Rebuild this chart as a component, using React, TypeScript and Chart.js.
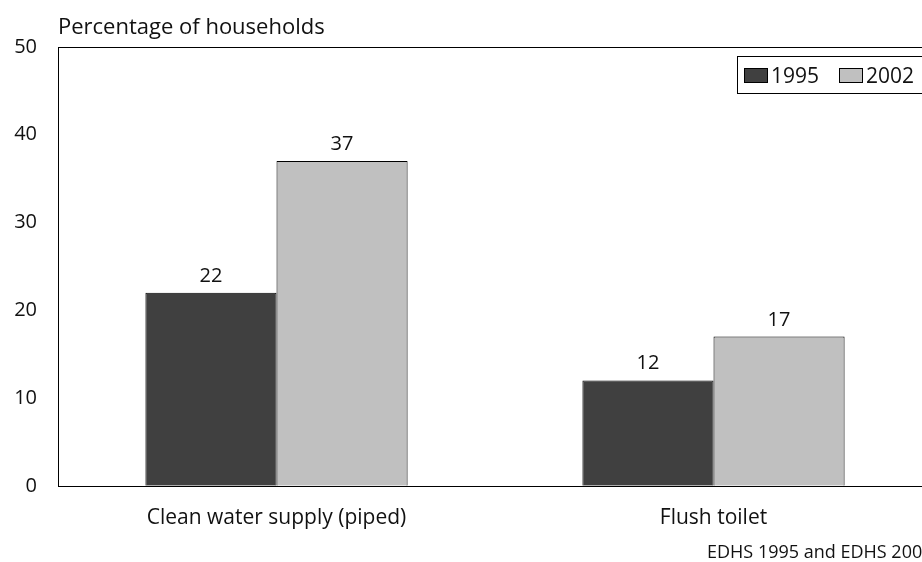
import React, { useEffect, useRef } from "react";
import { Chart, registerables } from "chart.js";

Chart.register(...registerables);

const categories = ["Clean water supply (piped)", "Flush toilet"];
const seriesLabels = ["1995", "2002"];
const values1995 = [22, 12];
const values2002 = [37, 17];
const yTicks = [0, 10, 20, 30, 40, 50];
const yTitle = "Percentage of households";
const sourceText = "EDHS 1995 and EDHS 2002";

const FONT = "'Open Sans', Lato, sans-serif";
const colors = ["#404040", "#c0c0c0"];

export default function App() {
  const ref = useRef<HTMLCanvasElement>(null);
  useEffect(() => {
    if (!ref.current) return;
    const decor = {
      id: "decor",
      afterDraw(chart: any) {
        const ctx = chart.ctx;
        const a = chart.chartArea;
        ctx.save();
        // frame
        ctx.strokeStyle = "#000";
        ctx.lineWidth = 1;
        ctx.strokeRect(Math.round(a.left) + 0.5, Math.round(a.top) + 0.5, Math.round(a.right - a.left), Math.round(a.bottom - a.top));
        // title
        ctx.fillStyle = "#111";
        ctx.font = `22px ${FONT}`;
        ctx.textAlign = "left";
        ctx.textBaseline = "alphabetic";
        ctx.fillText(yTitle, a.left, 34);
        // data labels
        ctx.font = `20px ${FONT}`;
        ctx.textAlign = "center";
        chart.data.datasets.forEach((ds: any, di: number) => {
          const meta = chart.getDatasetMeta(di);
          meta.data.forEach((bar: any, i: number) => {
            ctx.fillText(String(ds.data[i]), bar.x, bar.y - 11);
          });
        });
        // legend
        const lx = a.right - 195;
        const ly = 56;
        ctx.strokeRect(Math.round(lx) + 0.5, ly + 0.5, 200, 37);
        ctx.font = `21px ${FONT}`;
        ctx.textAlign = "left";
        let x = lx + 7;
        chart.data.datasets.forEach((ds: any) => {
          ctx.fillStyle = ds.backgroundColor;
          ctx.fillRect(Math.round(x) + 0.5, ly + 12.5, 23, 14);
          ctx.strokeRect(Math.round(x) + 0.5, ly + 12.5, 23, 14);
          ctx.fillStyle = "#111";
          ctx.fillText(ds.label, x + 27, ly + 27);
          x += 95;
        });
        // source
        ctx.font = `18px ${FONT}`;
        ctx.textAlign = "left";
        ctx.fillText(sourceText, a.right - 225, 558);
        ctx.restore();
      },
    };
    const chart = new Chart(ref.current, {
      type: "bar",
      data: {
        labels: categories,
        datasets: [
          { label: seriesLabels[0], data: values1995, backgroundColor: colors[0], borderColor: "#000", borderWidth: 1 },
          { label: seriesLabels[1], data: values2002, backgroundColor: colors[1], borderColor: "#000", borderWidth: 1 },
        ],
      },
      options: {
        responsive: false,
        animation: false,
        layout: { padding: { top: 47, right: 8, bottom: 11, left: 0 } },
        plugins: { legend: { display: false }, tooltip: { enabled: false } },
        datasets: { bar: { barPercentage: 1, categoryPercentage: 0.6 } },
        scales: {
          x: {
            grid: { display: false, drawTicks: false },
            border: { display: false },
            ticks: { color: "#111", font: { family: FONT, size: 21 }, padding: 20, maxRotation: 0 },
          },
          y: {
            min: 0,
            max: 50,
            afterBuildTicks: (s: any) => {
              s.ticks = yTicks.map((v) => ({ value: v }));
            },
            afterFit: (s: any) => {
              s.width = 58;
            },
            grid: { display: false, drawTicks: false },
            border: { display: false },
            ticks: { color: "#111", font: { family: FONT, size: 20 }, padding: 21 },
          },
        },
      },
      plugins: [decor],
    });
    return () => chart.destroy();
  }, []);
  return (
    <div style={{ position: "absolute", left: 0, top: 0, width: 922, height: 562, overflow: "hidden", background: "#fff" }}>
      <canvas ref={ref} width={940} height={562} style={{ display: "block" }} />
    </div>
  );
}
